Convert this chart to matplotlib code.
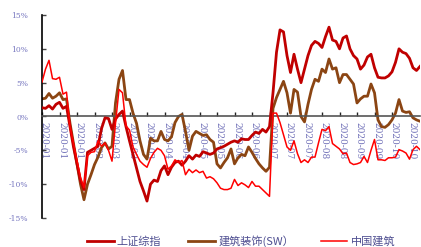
import matplotlib
matplotlib.use("Agg")
import matplotlib.pyplot as plt
import matplotlib.transforms as mtransforms
import numpy as np

# ---- data (cumulative return, %) ----
sh_index = [1.3, 1.2, 1.6, 1.1, 1.8, 2.1, 1.2, 1.5, -1.5, -4.5,
            -7.0, -9.5, -10.8, -5.3, -5.0, -4.7, -4.4, -1.8, -0.2, -0.3,
            -1.9, -0.4, 0.3, 0.8, -1.5, -3.6, -5.6, -7.6, -9.6, -11.0,
            -12.5, -10.0, -9.4, -9.6, -8.0, -7.3, -8.6, -7.5, -6.8, -6.6,
            -7.2, -6.6, -5.8, -6.3, -5.7, -5.9, -5.2, -5.4, -5.6, -5.4,
            -4.8, -4.6, -4.4, -4.1, -3.8, -3.6, -3.8, -3.3, -3.4, -3.4,
            -2.8, -2.3, -2.5, -1.9, -2.3, -1.5, 3.5, 9.5, 12.8, 12.5,
            9.0, 6.5, 9.2, 7.0, 5.0, 7.0, 9.0, 10.5, 11.1, 10.8,
            10.2, 11.8, 13.2, 11.3, 11.1, 10.0, 11.6, 11.9, 10.0, 9.0,
            8.5, 7.0, 7.6, 8.8, 9.2, 7.2, 5.8, 5.7, 5.7, 6.0,
            6.6, 8.0, 10.0, 9.5, 9.3, 8.6, 7.2, 6.8, 7.4]

sw_build = [2.6, 2.7, 3.4, 2.7, 3.0, 3.5, 2.5, 2.6, -1.0, -4.0,
            -7.0, -10.0, -12.3, -10.0, -8.6, -7.1, -6.0, -4.6, -3.9, -4.8,
            -4.4, 2.0, 5.5, 6.8, 2.5, 2.5, 0.5, -1.0, -3.6, -5.6,
            -6.3, -3.2, -3.6, -3.6, -2.2, -3.4, -3.6, -3.0, -0.9, 0.0,
            0.3, -2.2, -5.0, -2.9, -2.2, -2.5, -2.8, -2.7, -3.4, -3.8,
            -7.0, -7.6, -6.8, -6.1, -4.8, -7.0, -6.1, -5.6, -5.8, -4.5,
            -5.3, -6.2, -7.0, -7.6, -8.1, -7.5, 1.2, 2.8, 4.0, 5.2,
            3.5, 0.5, 4.0, 3.6, 0.0, -0.8, 1.8, 4.0, 5.5, 5.2,
            7.0, 6.5, 8.5, 7.0, 7.2, 5.0, 6.2, 6.2, 5.5, 4.8,
            2.0, 2.6, 3.0, 3.0, 4.8, 3.5, -0.5, -1.5, -1.6, -1.2,
            -0.5, 0.5, 2.5, 0.8, 0.6, 0.7, -0.2, -0.5, -0.7]

cscec = [5.1, 7.0, 8.3, 5.6, 5.5, 5.8, 3.3, 3.6, -1.5, -4.0,
         -6.5, -9.0, -10.5, -5.8, -5.3, -5.2, -3.6, -4.4, -3.9, -5.0,
         -6.6, -1.0, 4.0, 3.5, -1.4, -2.0, -4.5, -5.6, -6.6, -7.1,
         -7.5, -6.2, -5.3, -4.7, -5.0, -5.8, -7.8, -7.3, -6.4, -6.8,
         -6.5, -8.6, -7.8, -8.3, -7.9, -8.3, -8.1, -9.1, -8.9, -9.2,
         -9.8, -10.6, -10.8, -10.8, -10.6, -9.3, -10.2, -9.8, -10.1, -10.5,
         -9.6, -10.3, -10.3, -10.8, -11.3, -11.8, 0.5, 0.5, -0.9, -2.7,
         -4.5, -5.0, -3.6, -5.5, -6.8, -6.4, -6.8, -6.0, -6.0, -3.9,
         -1.9, -2.1, -1.5, -4.0, -4.4, -4.8, -5.5, -5.4, -6.8, -7.1,
         -7.0, -6.8, -5.9, -6.8, -5.0, -3.4, -6.4, -6.4, -6.5, -6.1,
         -6.1, -6.0, -4.9, -5.1, -5.4, -6.3, -4.9, -4.4, -4.9]

tick_labels = ["2020-01", "2020-01", "2020-01", "2020-02", "2020-03", "2020-03",
               "2020-03", "2020-04", "2020-04", "2020-05", "2020-05", "2020-06",
               "2020-06", "2020-07", "2020-07", "2020-07", "2020-08", "2020-08",
               "2020-09", "2020-09", "2020-10", "2020-10"]
series_names = ["上证综指", "建筑装饰(SW）", "中国建筑"]

plt.rcParams['font.family'] = ['Noto Sans CJK SC', 'DejaVu Sans']

W, H = 421, 247
fig = plt.figure(figsize=(W / 100, H / 100), dpi=100)
ax = fig.add_axes([42 / W, 1 - 218 / H, (420 - 42) / W, (218 - 15) / H])
ax.set_axisbelow(True)

x = np.arange(len(sh_index))
ax.plot(x, sh_index, color="#c00000", lw=2.0, label=series_names[0], zorder=3)
ax.plot(x, sw_build, color="#8b4513", lw=2.0, label=series_names[1], zorder=2)
ax.plot(x, cscec, color="#ff0000", lw=1.1, label=series_names[2], zorder=4)

ax.set_xlim(0, len(sh_index) - 1)
ax.set_ylim(-15, 15)

ax.spines['top'].set_visible(False)
ax.spines['right'].set_visible(False)
ax.spines['left'].set_color('black')
ax.spines['left'].set_linewidth(1.2)
ax.spines['bottom'].set_position(('data', 0))
ax.spines['bottom'].set_color('#555555')
ax.spines['bottom'].set_linewidth(1.2)

yt = [-15, -10, -5, 0, 5, 10, 15]
ax.set_yticks(yt)
ax.set_yticklabels([f"{v}%" for v in yt], family=['DejaVu Serif'], fontsize=5.5, color="#7878c0")
ax.tick_params(axis='y', direction='in', length=3, width=1, color='#444444', pad=10)

xt = np.arange(0, len(tick_labels) * 5, 5)
ax.set_xticks(xt)
ax.set_xticklabels(tick_labels, rotation=270, family=['DejaVu Serif'], fontsize=6.5,
                   color="#7070b8", ha='center', va='top')
ax.tick_params(axis='x', direction='in', length=3, width=1, color='#222222', pad=4)
offset = mtransforms.ScaledTranslation(2 / 100, 0, fig.dpi_scale_trans)
for lab in ax.get_xticklabels():
    lab.set_transform(lab.get_transform() + offset)

leg = fig.legend(loc='center', bbox_to_anchor=(241 / W, 1 - 241.5 / H), ncol=3,
                 frameon=False, fontsize=8, handlelength=2.4, handletextpad=0.3,
                 columnspacing=2.4, borderpad=0)
for t in leg.get_texts():
    t.set_color("#4d4d90")

fig.savefig("out.png", dpi=100)
